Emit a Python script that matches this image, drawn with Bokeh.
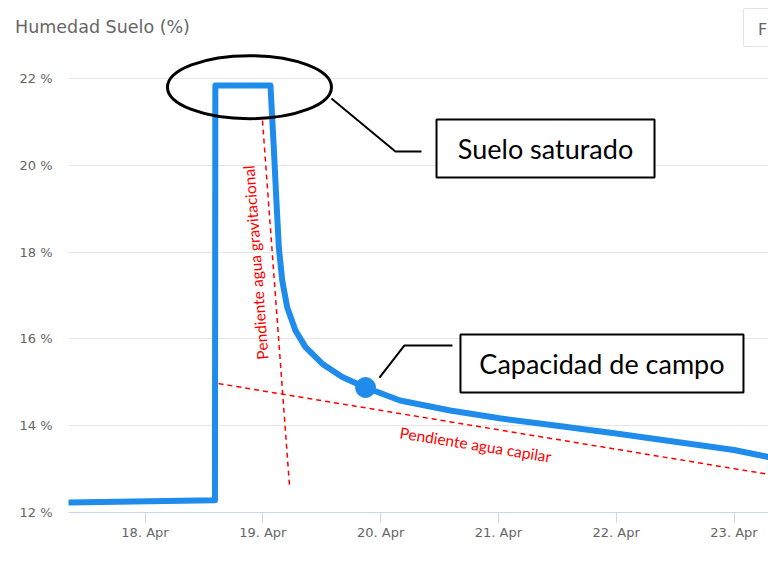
import pandas as pd
from bokeh.plotting import figure
from bokeh.layouts import column
from bokeh.models import (Range1d, DaysTicker, DatetimeTickFormatter, FixedTicker,
                          PrintfTickFormatter, Div)
from bokeh.core.properties import value
from bokeh.embed import file_html
from bokeh.resources import INLINE

# ---------------- data ----------------
times = ["2021-04-17 08:25", "2021-04-18 14:15", "2021-04-18 14:20", "2021-04-19 01:34",
         "2021-04-19 01:52", "2021-04-19 02:14", "2021-04-19 02:44", "2021-04-19 03:16",
         "2021-04-19 03:57", "2021-04-19 04:58", "2021-04-19 06:40", "2021-04-19 08:42",
         "2021-04-19 12:06", "2021-04-19 16:11", "2021-04-19 20:56", "2021-04-20 03:58",
         "2021-04-20 14:10", "2021-04-21 00:14", "2021-04-21 12:00", "2021-04-22 00:00",
         "2021-04-22 12:00", "2021-04-23 00:00", "2021-04-23 06:58"]
humidity = [12.23, 12.28, 21.84, 21.84,
            21.19, 20.42, 19.27, 18.11,
            17.35, 16.73, 16.19, 15.81,
            15.43, 15.12, 14.88, 14.58,
            14.35, 14.17, 14.00, 13.82,
            13.63, 13.44, 13.28]

field_capacity_time = ["2021-04-19 20:56"]
field_capacity_value = [14.88]

gravitational_slope_time = ["2021-04-18 23:56", "2021-04-19 05:27"]
gravitational_slope_value = [21.03, 12.60]
capillary_slope_time = ["2021-04-18 14:59", "2021-04-23 06:58"]
capillary_slope_value = [14.97, 12.88]

y_ticks = [12, 14, 16, 18, 20, 22]

title_text = "Humedad Suelo (%)"
button_text = "F"
saturated_label = "Suelo saturado"
field_capacity_label = "Capacidad de campo"
gravitational_label = "Pendiente agua gravitacional"
capillary_label = "Pendiente agua capilar"

# annotation anchors (data coordinates)
ellipse_time = ["2021-04-18 21:17"]
ellipse_value = [21.80]
saturated_callout_time = ["2021-04-19 13:59", "2021-04-20 03:01", "2021-04-20 08:20"]
saturated_callout_value = [21.54, 20.32, 20.32]
saturated_box_time = ["2021-04-21 09:36"]
saturated_box_value = [20.387]
capacity_callout_time = ["2021-04-19 23:46", "2021-04-20 04:52", "2021-04-20 14:38"]
capacity_callout_value = [15.11, 15.85, 15.85]
capacity_box_time = ["2021-04-21 21:06"]
capacity_box_value = [15.433]
capillary_text_time = ["2021-04-20 19:21"]
capillary_text_value = [13.567]
gravitational_text_time = ["2021-04-18 22:31"]
gravitational_text_value = [17.76]


def ts(lst):
    return pd.to_datetime(lst)


BLUE = "#1f8cec"
GREY_TXT = "#666666"
W = 768
TOP_H = 52
MAIN_H = 513

# ---------------- header strip (title + button) ----------------
header_html = (
    '<div style="position:relative;width:768px;height:52px;overflow:hidden;'
    'font-family:\'DejaVu Sans\';">'
    '<span style="position:absolute;left:15px;top:15px;font-size:17.5px;'
    f'color:{GREY_TXT};white-space:nowrap;">{title_text}</span>'
    '<div style="position:absolute;left:743px;top:8px;width:40px;height:39px;'
    'border:1px solid #e3e3e3;border-radius:2px;background:white;"></div>'
    '<span style="position:absolute;left:758px;top:19px;font-size:16px;'
    f'color:{GREY_TXT};">{button_text}</span>'
    '</div>'
)
head = Div(text=header_html, width=W, height=TOP_H, styles={"margin": "0", "padding": "0"})

# ---------------- main chart ----------------
day0 = pd.Timestamp("2021-04-18 00:00")
px_per_day = 117.8
x_start = day0 + pd.Timedelta(days=(68 - 144.5) / px_per_day)
x_end = day0 + pd.Timedelta(days=(768 - 144.5) / px_per_day)

p = figure(width=W, height=MAIN_H, x_axis_type="datetime",
           x_range=Range1d(x_start, x_end), y_range=Range1d(12, 12 + 460 / 43.4),
           output_backend="svg", toolbar_location=None, tools="",
           min_border_left=68, min_border_right=0, min_border_top=0,
           min_border_bottom=53)
p.outline_line_color = None

# grid
p.xgrid.grid_line_color = None
p.ygrid.ticker = FixedTicker(ticks=y_ticks)
p.ygrid.grid_line_color = "#e6e6e6"
p.ygrid.grid_line_width = 1

# y axis
p.yaxis.ticker = FixedTicker(ticks=y_ticks)
p.yaxis.formatter = PrintfTickFormatter(format="%d %%")
p.yaxis.axis_line_color = None
p.yaxis.major_tick_line_color = None
p.yaxis.major_tick_out = 0
p.yaxis.major_tick_in = 0
p.yaxis.minor_tick_line_color = None
p.yaxis.minor_tick_out = 0
p.yaxis.major_label_standoff = 16
p.yaxis.major_label_text_color = GREY_TXT
p.yaxis.major_label_text_font = "DejaVu Sans"
p.yaxis.major_label_text_font_size = "13px"

# x axis
p.xaxis.ticker = DaysTicker(days=list(range(1, 32)))
p.xaxis.formatter = DatetimeTickFormatter(days="%d. %b", months="%d. %b")
p.xaxis.axis_line_color = "#ccd6eb"
p.xaxis.major_tick_line_color = "#ccd6eb"
p.xaxis.major_tick_out = 10
p.xaxis.major_tick_in = 0
p.xaxis.minor_tick_line_color = None
p.xaxis.major_label_standoff = 2
p.xaxis.major_label_text_color = GREY_TXT
p.xaxis.major_label_text_font = "DejaVu Sans"
p.xaxis.major_label_text_font_size = "13px"

# red dashed slopes
p.line(ts(gravitational_slope_time), gravitational_slope_value, line_color="red",
       line_width=1.5, line_dash="5 4")
p.line(ts(capillary_slope_time), capillary_slope_value, line_color="red",
       line_width=1.5, line_dash="5 4")

# series
p.line(ts(times), humidity, line_color=BLUE, line_width=6, line_join="round", line_cap="round")
p.scatter(ts(field_capacity_time), field_capacity_value, size=20, color=BLUE)

# callouts
p.line(ts(saturated_callout_time), saturated_callout_value, line_color="black", line_width=2)
p.line(ts(capacity_callout_time), capacity_callout_value, line_color="black", line_width=2)
p.ellipse(ts(ellipse_time), ellipse_value, width=164, height=63, width_units="screen",
          height_units="screen", fill_color=None, line_color="black", line_width=3)
p.rect(ts(saturated_box_time), saturated_box_value, width=218, height=58,
       width_units="screen", height_units="screen", fill_color="white",
       line_color="black", line_width=2)
p.rect(ts(capacity_box_time), capacity_box_value, width=283, height=58,
       width_units="screen", height_units="screen", fill_color="white",
       line_color="black", line_width=2)
p.text(ts(saturated_box_time), saturated_box_value, text=[saturated_label],
       text_align="center", text_baseline="middle", text_font=value("Lato"),
       text_font_size="27px", text_color="black")
p.text(ts(capacity_box_time), capacity_box_value, text=[field_capacity_label],
       text_align="center", text_baseline="middle", text_font=value("Lato"),
       text_font_size="27px", text_color="black")

# red slope labels
p.text(ts(capillary_text_time), capillary_text_value, text=[capillary_label],
       angle=-0.16, text_align="center", text_baseline="middle",
       text_font=value("Lato"), text_font_size="15.5px", text_color="red")
p.text(ts(gravitational_text_time), gravitational_text_value, text=[gravitational_label],
       angle=1.644, text_align="center", text_baseline="middle",
       text_font=value("Lato"), text_font_size="15.5px", text_color="red")

layout = column(head, p, spacing=0)
open("out.html", "w").write(file_html(layout, INLINE))
